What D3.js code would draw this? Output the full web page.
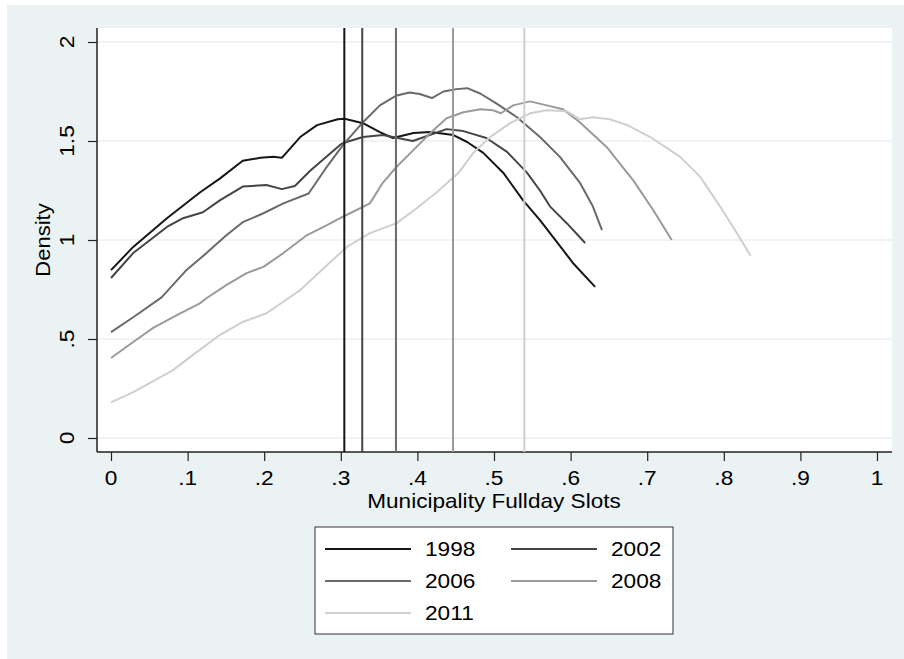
<!DOCTYPE html>
<html>
<head>
<meta charset="utf-8">
<script src="https://cdn.jsdelivr.net/npm/d3@7"></script>
<style>
  body { margin: 0; background: #fff; }
  text { font-family: "Liberation Sans", Arial, sans-serif; fill: #000; }
</style>
</head>
<body>
<svg width="904" height="659"></svg>
<script>
// kernel density curves per year, [x, density]
var years = ["1998", "2002", "2006", "2008", "2011"];
var colors = ["#161616", "#454545", "#6a6a6a", "#9a9a9a", "#cfcfcf"];
var means = [0.3046, 0.328, 0.372, 0.4465, 0.5396];

var dens1998 = [[0,0.848],[0.029,0.965],[0.073,1.11],[0.116,1.24],[0.142,1.31],[0.172,1.40],[0.195,1.415],[0.212,1.42],[0.223,1.415],[0.247,1.52],[0.269,1.58],[0.296,1.61],[0.305,1.612],[0.329,1.59],[0.351,1.545],[0.368,1.515],[0.395,1.54],[0.417,1.545],[0.447,1.53],[0.465,1.495],[0.486,1.44],[0.512,1.34],[0.538,1.20],[0.56,1.10],[0.59,0.95],[0.603,0.884],[0.632,0.763]];
var dens2002 = [[0,0.808],[0.029,0.934],[0.073,1.066],[0.094,1.11],[0.12,1.14],[0.142,1.20],[0.172,1.27],[0.203,1.278],[0.223,1.257],[0.24,1.273],[0.26,1.35],[0.299,1.48],[0.303,1.49],[0.329,1.52],[0.355,1.53],[0.394,1.50],[0.438,1.56],[0.46,1.55],[0.49,1.515],[0.517,1.445],[0.543,1.34],[0.56,1.25],[0.573,1.17],[0.595,1.085],[0.619,0.985]];
var dens2006 = [[0,0.535],[0.029,0.61],[0.066,0.71],[0.099,0.85],[0.125,0.935],[0.151,1.025],[0.172,1.09],[0.199,1.135],[0.225,1.185],[0.258,1.235],[0.28,1.36],[0.303,1.48],[0.329,1.595],[0.351,1.68],[0.373,1.73],[0.39,1.745],[0.403,1.737],[0.419,1.717],[0.434,1.75],[0.451,1.762],[0.465,1.767],[0.482,1.74],[0.503,1.69],[0.53,1.62],[0.56,1.52],[0.586,1.42],[0.612,1.29],[0.629,1.17],[0.641,1.05]];
var dens2008 = [[0,0.404],[0.029,0.485],[0.055,0.556],[0.086,0.62],[0.116,0.68],[0.125,0.707],[0.151,0.773],[0.177,0.833],[0.199,0.864],[0.225,0.934],[0.256,1.025],[0.282,1.075],[0.299,1.11],[0.312,1.135],[0.338,1.185],[0.355,1.29],[0.373,1.37],[0.395,1.455],[0.417,1.54],[0.438,1.615],[0.46,1.645],[0.482,1.66],[0.499,1.655],[0.509,1.64],[0.525,1.68],[0.547,1.70],[0.569,1.68],[0.59,1.66],[0.612,1.595],[0.647,1.47],[0.682,1.30],[0.708,1.15],[0.732,1.0]];
var dens2011 = [[0,0.18],[0.029,0.232],[0.051,0.278],[0.081,0.343],[0.107,0.42],[0.142,0.52],[0.172,0.586],[0.203,0.63],[0.247,0.747],[0.285,0.884],[0.308,0.965],[0.338,1.035],[0.373,1.085],[0.399,1.16],[0.425,1.24],[0.455,1.345],[0.473,1.44],[0.495,1.52],[0.521,1.59],[0.547,1.64],[0.569,1.655],[0.595,1.65],[0.612,1.61],[0.629,1.62],[0.651,1.61],[0.674,1.58],[0.704,1.52],[0.743,1.42],[0.769,1.32],[0.795,1.17],[0.817,1.035],[0.835,0.92]];

var xTicks = [0, 0.1, 0.2, 0.3, 0.4, 0.5, 0.6, 0.7, 0.8, 0.9, 1];
var yTicks = [0, 0.5, 1, 1.5, 2];
var series = [dens1998, dens2002, dens2006, dens2008, dens2011];

var svg = d3.select("svg");

// stata-ish background
svg.append("rect").attr("x", 7).attr("y", 5).attr("width", 897).attr("height", 654).attr("fill", "#eaf2f3");

var plot = { left: 97, right: 892, top: 28, bottom: 452 };
svg.append("rect")
    .attr("x", plot.left).attr("y", plot.top)
    .attr("width", plot.right - plot.left).attr("height", plot.bottom - plot.top)
    .attr("fill", "#fff");

var x = d3.scaleLinear().domain([0, 1]).range([111, 877]);
var y = d3.scaleLinear().domain([0, 2]).range([438, 42]);

// stata style: 0, .5, 1, 1.5, 2
var fmt = function(d) { return d3.format("~g")(d).replace(/^0\./, "."); };

// gridlines
svg.append("g").selectAll("line").data(yTicks).enter().append("line")
    .attr("x1", plot.left).attr("x2", plot.right)
    .attr("y1", function(d) { return y(d); }).attr("y2", function(d) { return y(d); })
    .attr("stroke", "#eaf2f3").attr("stroke-width", 1.5);

// axes
var yAxis = svg.append("g").attr("transform", "translate(" + plot.left + ",0)")
    .call(d3.axisLeft(y).tickValues(yTicks).tickSize(9).tickFormat(""));
var xAxis = svg.append("g").attr("transform", "translate(0," + plot.bottom + ")")
    .call(d3.axisBottom(x).tickValues(xTicks).tickSize(9).tickFormat(""));
[yAxis, xAxis].forEach(function(a) {
  a.select(".domain").remove();
  a.selectAll("line").attr("stroke", "#222").attr("stroke-width", 1.2);
});
svg.append("line").attr("x1", plot.left).attr("x2", plot.left).attr("y1", plot.top).attr("y2", plot.bottom)
    .attr("stroke", "#222").attr("stroke-width", 1.5);
svg.append("line").attr("x1", plot.left).attr("x2", plot.right).attr("y1", plot.bottom).attr("y2", plot.bottom)
    .attr("stroke", "#222").attr("stroke-width", 1.5);

svg.append("g").selectAll("text").data(xTicks).enter().append("text")
    .attr("transform", function(d) { return "translate(" + x(d) + ",485) scale(1.08,1)"; })
    .attr("text-anchor", "middle").attr("font-size", 21)
    .text(fmt);

svg.append("g").selectAll("text").data(yTicks).enter().append("text")
    .attr("transform", function(d) { return "translate(74," + y(d) + ") rotate(-90) scale(1.08,1)"; })
    .attr("text-anchor", "middle").attr("font-size", 21)
    .text(fmt);

svg.append("text").attr("transform", "translate(494,508) scale(1.13,1)").attr("text-anchor", "middle")
    .attr("font-size", 20).text("Municipality Fullday Slots");
svg.append("text").attr("transform", "translate(50,240) rotate(-90) scale(1.1,1)").attr("text-anchor", "middle")
    .attr("font-size", 20).text("Density");

// density curves
var line = d3.line().x(function(d) { return x(d[0]); }).y(function(d) { return y(d[1]); });
svg.append("g").selectAll("path").data(series).enter().append("path")
    .attr("d", line)
    .attr("fill", "none")
    .attr("stroke", function(d, i) { return colors[i]; })
    .attr("stroke-width", 2)
    .attr("stroke-linejoin", "round");

// mean lines
svg.append("g").selectAll("line").data(means).enter().append("line")
    .attr("x1", function(d) { return x(d); }).attr("x2", function(d) { return x(d); })
    .attr("y1", plot.top).attr("y2", plot.bottom)
    .attr("stroke", function(d, i) { return colors[i]; })
    .attr("stroke-width", 2);

// legend
svg.append("rect").attr("x", 315).attr("y", 527).attr("width", 358).attr("height", 107)
    .attr("fill", "#fff").attr("stroke", "#333").attr("stroke-width", 1);
var leg = svg.append("g").selectAll("g").data(years).enter().append("g")
    .attr("transform", function(d, i) { return "translate(" + (i % 2 ? 511 : 325) + "," + (549 + Math.floor(i / 2) * 32) + ")"; });
leg.append("line").attr("x1", 0).attr("x2", 86).attr("y1", 0).attr("y2", 0)
    .attr("stroke", function(d, i) { return colors[i]; }).attr("stroke-width", 2);
leg.append("text").attr("transform", "translate(100,7) scale(1.08,1)").attr("font-size", 21).text(function(d) { return d; });
</script>
</body>
</html>
